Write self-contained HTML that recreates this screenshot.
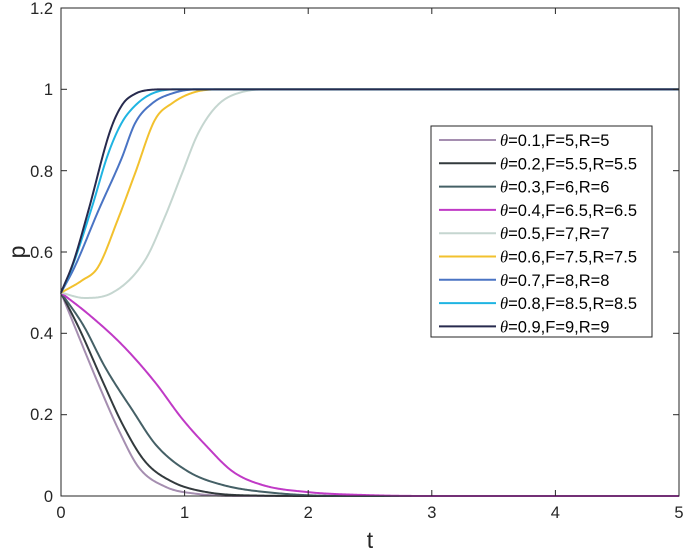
<!DOCTYPE html>
<html><head><meta charset="utf-8"><style>
html,body{margin:0;padding:0;background:#fff;}
svg{display:block;font-family:"Liberation Sans",Arial,sans-serif;}
</style></head><body>
<svg id="s" width="685" height="549" viewBox="0 0 685 549" xmlns="http://www.w3.org/2000/svg">
<rect x="0" y="0" width="685" height="549" fill="#fff"/>
<g id="curves" fill="none" stroke-width="2" stroke-linejoin="round"></g>
<rect x="61" y="8" width="618" height="488" fill="none" stroke="#262626" stroke-width="1"/>
<g stroke="#262626" stroke-width="1">
<line x1="184.6" y1="496" x2="184.6" y2="490"/><line x1="308.2" y1="496" x2="308.2" y2="490"/><line x1="431.8" y1="496" x2="431.8" y2="490"/><line x1="555.4" y1="496" x2="555.4" y2="490"/>
<line x1="184.6" y1="8" x2="184.6" y2="14"/><line x1="308.2" y1="8" x2="308.2" y2="14"/><line x1="431.8" y1="8" x2="431.8" y2="14"/><line x1="555.4" y1="8" x2="555.4" y2="14"/>
<line x1="61" y1="414.7" x2="67" y2="414.7"/><line x1="61" y1="333.3" x2="67" y2="333.3"/><line x1="61" y1="252" x2="67" y2="252"/><line x1="61" y1="170.7" x2="67" y2="170.7"/><line x1="61" y1="89.3" x2="67" y2="89.3"/>
<line x1="679" y1="414.7" x2="673" y2="414.7"/><line x1="679" y1="333.3" x2="673" y2="333.3"/><line x1="679" y1="252" x2="673" y2="252"/><line x1="679" y1="170.7" x2="673" y2="170.7"/><line x1="679" y1="89.3" x2="673" y2="89.3"/>
</g>
<g font-size="16.5" fill="#262626" text-anchor="middle">
<text x="61" y="518">0</text><text x="184.6" y="518">1</text><text x="308.2" y="518">2</text><text x="431.8" y="518">3</text><text x="555.4" y="518">4</text><text x="679" y="518">5</text>
</g>
<g font-size="16.5" fill="#262626" text-anchor="end">
<text x="53" y="502">0</text><text x="53" y="420">0.2</text><text x="53" y="339">0.4</text><text x="53" y="258">0.6</text><text x="53" y="177">0.8</text><text x="53" y="95">1</text><text x="53" y="14">1.2</text>
</g>
<text x="370" y="548" font-size="23" fill="#262626" text-anchor="middle">t</text>
<text transform="translate(25,252) rotate(-90)" font-size="23" fill="#262626" text-anchor="middle">p</text>
<rect x="431" y="126" width="221" height="211" fill="#fff" stroke="#262626" stroke-width="1"/>
<g id="leg" font-size="16.5" fill="#000"></g>
</svg>
<script>
var X=function(t){return 61+t*123.6;},Y=function(p){return 496-p*406.67;};
var S=[
["#a58eb0",[[0,.5],[.12,.41],[.31,.27],[.47,.16],[.63,.07],[.85,.022],[1.08,.006],[1.5,0],[5,0]],"θ=0.1,F=5,R=5"],
["#333a3d",[[0,.5],[.15,.41],[.34,.28],[.5,.175],[.68,.085],[.9,.035],[1.17,.01],[1.6,.001],[2.2,0],[5,0]],"θ=0.2,F=5.5,R=5.5"],
["#456066",[[0,.5],[.18,.42],[.36,.315],[.58,.21],[.77,.125],[1.03,.06],[1.31,.027],[1.71,.008],[2.3,0],[5,0]],"θ=0.3,F=6,R=6"],
["#c03ac6",[[0,.5],[.23,.445],[.5,.37],[.76,.28],[.98,.19],[1.17,.125],[1.39,.06],[1.63,.027],[1.98,.01],[2.5,.002],[3,0],[5,0]],"θ=0.4,F=6.5,R=6.5"],
["#c5d6d0",[[0,.5],[.19,.487],[.41,.499],[.68,.58],[.84,.686],[.98,.794],[1.11,.892],[1.27,.962],[1.46,.993],[1.7,1],[5,1]],"θ=0.5,F=7,R=7"],
["#f2c12e",[[0,.5],[.17,.53],[.3,.563],[.46,.68],[.6,.794],[.76,.925],[.9,.966],[1.08,.993],[1.3,1],[5,1]],"θ=0.6,F=7.5,R=7.5"],
["#4a74c4",[[0,.5],[.11,.563],[.3,.7],[.49,.83],[.6,.917],[.74,.966],[.9,.99],[1.1,1],[5,1]],"θ=0.7,F=8,R=8"],
["#1fb4e2",[[0,.5],[.09,.563],[.25,.71],[.38,.84],[.49,.917],[.6,.96],[.74,.99],[.95,1],[5,1]],"θ=0.8,F=8.5,R=8.5"],
["#272a4e",[[0,.5],[.1,.575],[.22,.7],[.4,.9],[.5,.964],[.6,.989],[.7,.998],[.85,1],[5,1]],"θ=0.9,F=9,R=9"]];
var NS="http://www.w3.org/2000/svg",g=document.getElementById("curves"),L=document.getElementById("leg");
function mono(pts){var n=pts.length,x=pts.map(function(q){return q[0]}),y=pts.map(function(q){return q[1]}),d=[],m=[];
for(var i=0;i<n-1;i++)d.push((y[i+1]-y[i])/(x[i+1]-x[i]));
m[0]=d[0];m[n-1]=d[n-2];for(i=1;i<n-1;i++){m[i]=(d[i-1]*d[i]<=0)?0:(d[i-1]+d[i])/2;}
for(i=0;i<n-1;i++){if(d[i]==0){m[i]=0;m[i+1]=0;continue;}var a=m[i]/d[i],b=m[i+1]/d[i],h=a*a+b*b;if(h>9){var tt=3/Math.sqrt(h);m[i]=tt*a*d[i];m[i+1]=tt*b*d[i];}}
var out=[];for(var t=0;t<=5.0001;t+=0.01){var k=0;while(k<n-2&&t>x[k+1])k++;var hh=x[k+1]-x[k],s=(t-x[k])/hh;
var h00=2*s*s*s-3*s*s+1,h10=s*s*s-2*s*s+s,h01=-2*s*s*s+3*s*s,h11=s*s*s-s*s;
var v=h00*y[k]+h10*hh*m[k]+h01*y[k+1]+h11*hh*m[k+1];out.push(X(t).toFixed(2)+","+Y(v).toFixed(2));}
return out.join(" ");}
S.forEach(function(s,i){var p=document.createElementNS(NS,"polyline");p.setAttribute("points",mono(s[1]));p.setAttribute("stroke",s[0]);g.appendChild(p);
var y=140+i*23.3;var l=document.createElementNS(NS,"line");l.setAttribute("x1",439);l.setAttribute("x2",496);l.setAttribute("y1",y);l.setAttribute("y2",y);l.setAttribute("stroke",s[0]);l.setAttribute("stroke-width",2);L.appendChild(l);
var t=document.createElementNS(NS,"text");t.setAttribute("x",500);t.setAttribute("y",y+6);
var th=document.createElementNS(NS,"tspan");th.setAttribute("font-style","italic");th.setAttribute("font-family","Liberation Serif, serif");th.textContent="θ";t.appendChild(th);
t.appendChild(document.createTextNode(s[2].slice(1)));L.appendChild(t);});
</script>
</body></html>
